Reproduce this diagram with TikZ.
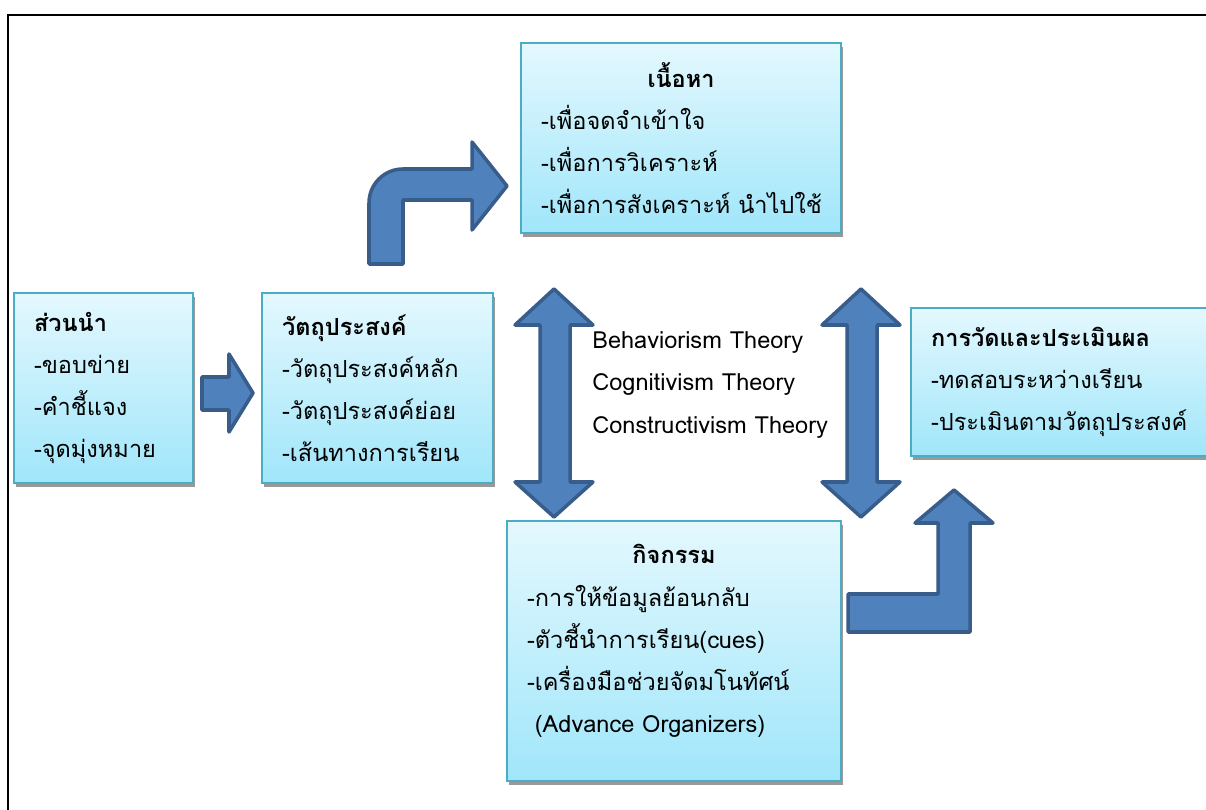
\documentclass[tikz,border=0pt]{standalone}
\usepackage{fontspec}
\setmainfont{Loma}[Script=Thai]
\usetikzlibrary{positioning}
\usetikzlibrary{shadows}
\definecolor{BoxLine}{RGB}{75,172,198}
\definecolor{BoxTop}{RGB}{228,248,254}
\definecolor{BoxBottom}{RGB}{160,230,250}
\definecolor{ArrowFill}{RGB}{79,129,189}
\definecolor{ArrowLine}{RGB}{56,93,138}
\newcommand{\boxFont}{\fontsize{13.4}{24}\selectfont}
\tikzset{
	topic/.style={draw=BoxLine, line width=1.2pt, top color=BoxTop, bottom color=BoxBottom,
		anchor=north west, align=left, inner xsep=0.4cm, font=\boxFont,
		drop shadow={shadow xshift=0.03cm, shadow yshift=-0.07cm, fill=black!40, opacity=1}},
	fatarrow/.style={fill=ArrowFill, draw=ArrowLine, line width=2pt, line join=round}
}
\begin{document}
\begin{tikzpicture}[x=0.02cm, y=-0.02cm]
	
		\useasboundingbox (0,0) rectangle (1206,810);
		\clip (0,0) rectangle (1206,810);
		\fill [white] (0,0) rectangle (1206,810);
		\draw [line width=1.3pt] (8,15) rectangle (1240,840);
		
		\node [topic, text width=2.78cm, minimum height=3.8cm] (intro) at (13,292)
			{\textbf{ส่วนนำ}\\-ขอบข่าย\\-คำชี้แจง\\-จุดมุ่งหมาย};
		\node [topic, text width=3.82cm, minimum height=3.8cm] (goals) at (261,292)
			{\textbf{วัตถุประสงค์}\\-วัตถุประสงค์หลัก\\-วัตถุประสงค์ย่อย\\-เส้นทางการเรียน};
		\node [topic, text width=5.6cm, minimum height=3.8cm] (content) at (520,42)
			{{\centering\textbf{เนื้อหา}\par}-เพื่อจดจำเข้าใจ\\-เพื่อการวิเคราะห์\\\mbox{-เพื่อการสังเคราะห์ นำไปใช้}};
		\node [topic, text width=5.5cm, minimum height=2.96cm] (evaluation) at (910,307)
			{\textbf{การวัดและประเมินผล}\\-ทดสอบระหว่างเรียน\\-ประเมินตามวัตถุประสงค์};
		\node [topic, text width=5.88cm, minimum height=5.2cm] (activity) at (506,520)
			{{\centering\textbf{กิจกรรม}\par}-การให้ข้อมูลย้อนกลับ\\-ตัวชี้นำการเรียน(cues)\\-เครื่องมือช่วยจัดมโนทัศน์\\\ (Advance Organizers)\rule[-0.5cm]{0pt}{0pt}};
		
		\node [anchor=west, align=left, font=\boxFont, inner sep=0pt] (theories) at (592,385)
			{Behaviorism Theory\\Cognitivism Theory\\Constructivism Theory};
		
		% block arrows
		\draw [fatarrow] (202,377) -- (229,377) -- (229,354) -- (253,393) -- (229,432) -- (229,410) -- (202,410) -- cycle;
		\draw [fatarrow] (369,264) -- (369,203) arc [start angle=180, end angle=270, radius=34]
			-- (472,169) -- (472,142) -- (507,186) -- (472,230) -- (472,200) -- (403,200) -- (403,264) -- cycle;
		\draw [fatarrow] (554,289) -- (593,325) -- (570,325) -- (570,482) -- (593,482) -- (554,517)
			-- (515,482) -- (540,482) -- (540,325) -- (515,325) -- cycle;
		\draw [fatarrow] (861,289) -- (900,325) -- (877,325) -- (877,482) -- (900,482) -- (861,517)
			-- (822,482) -- (847,482) -- (847,325) -- (822,325) -- cycle;
		\draw [fatarrow] (848,594) -- (938,594) -- (938,523) -- (915,523) -- (954,490) -- (993,523)
			-- (970,523) -- (970,632) -- (848,632) -- cycle;
		
	\end{tikzpicture}
\end{document}
